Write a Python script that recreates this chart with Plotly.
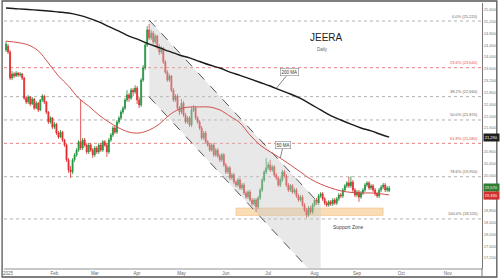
import pandas as pd
import plotly.graph_objects as go

# ---------------- data ----------------
dates = pd.bdate_range("2024-12-31", periods=191)

opens = [
    24240, 24370, 24170, 23290, 23430, 23360, 23460, 23390, 23430, 23290,
    22610, 22480, 22650, 22410, 22580, 22270, 22440, 22210, 22550, 22680,
    22480, 22140, 21800, 21940, 21630, 21730, 21430, 21290, 21460, 21190,
    21020, 20520, 20180, 20110, 20520, 20690, 20850, 21130, 20920, 21190,
    21020, 20790, 21020, 20850, 20690, 20920, 20790, 21020, 20850, 21130,
    21020, 20790, 21190, 21360, 21600, 21460, 21800, 21940, 22140, 22270,
    22550, 22720, 22610, 22880, 22820, 22950, 22550, 22380, 23220, 23630,
    24410, 24920, 24650, 24810, 24510, 24710, 24340, 24170, 24310, 23830,
    23490, 23220, 23360, 22880, 22550, 22680, 22270, 22140, 22440, 22040,
    21800, 21940, 21700, 22210, 22270, 21940, 21800, 21600, 21260, 21430,
    21130, 21020, 20850, 21020, 20690, 20850, 20650, 20520, 20690, 20350,
    20110, 20250, 19910, 20010, 19770, 19670, 19840, 19570, 19670, 19400,
    19260, 19430, 19160, 19030, 19160, 18930, 19230, 19500, 19840, 20110,
    20250, 20350, 20180, 20280, 20010, 19910, 19670, 19840, 20110, 19970,
    19670, 19500, 19640, 19430, 19500, 19300, 19160, 19260, 18990, 18820,
    18650, 18890, 18760, 18990, 19160, 19060, 19300, 19370, 19200, 19060,
    18990, 19100, 19030, 19160, 19060, 19200, 19330, 19300, 19500, 19640,
    19740, 19640, 19770, 19500, 19330, 19430, 19260, 19400, 19500, 19670,
    19740, 19570, 19640, 19500, 19370, 19300, 19500, 19600, 19670, 19500,
    19470,
]
highs = [
    24540, 24440, 24240, 23530, 23490, 23530, 23490, 23490, 23460, 23330,
    22680, 22720, 22680, 22650, 22610, 22510, 22480, 22580, 22750, 22720,
    22510, 22170, 22000, 21970, 21800, 21770, 21500, 21530, 21500, 21230,
    21060, 20580, 20310, 20580, 20750, 20920, 21190, 22550, 21260, 21260,
    21090, 21090, 21090, 20920, 20990, 20990, 21090, 21090, 21190, 21190,
    21090, 21260, 21430, 21670, 21670, 21870, 22000, 22210, 22340, 22610,
    22880, 22780, 22950, 22950, 23050, 23020, 22650, 23290, 23730, 24510,
    25050, 25120, 24920, 24880, 24780, 24750, 24440, 24370, 24340, 23900,
    23560, 23430, 23390, 22950, 22750, 22750, 22340, 22580, 22510, 22110,
    22000, 22000, 22310, 22380, 22340, 22000, 21870, 21670, 21500, 21500,
    21190, 21090, 21090, 21090, 20920, 20920, 20720, 20750, 20750, 20420,
    20310, 20310, 20080, 20080, 19840, 19910, 19910, 19740, 19740, 19470,
    19500, 19500, 19230, 19230, 19230, 19300, 19570, 19910, 20180, 20580,
    20450, 20520, 20350, 20350, 20080, 19970, 19910, 20180, 20180, 20040,
    19740, 19700, 19700, 19570, 19570, 19370, 19330, 19330, 19060, 18890,
    18960, 18960, 19060, 19230, 19230, 19370, 19430, 19430, 19260, 19130,
    19160, 19160, 19230, 19230, 19260, 19400, 19400, 19570, 19700, 19800,
    19940, 19970, 19840, 19570, 19500, 19500, 19470, 19570, 19740, 19800,
    19800, 19700, 19700, 19570, 19430, 19570, 19670, 19740, 19740, 19640,
    19640,
]
lows = [
    24170, 24100, 23220, 23220, 23290, 23330, 23330, 23330, 23220, 22550,
    22410, 22410, 22340, 22380, 22210, 22240, 22140, 22170, 22480, 22410,
    22070, 21740, 21740, 21560, 21560, 21360, 21230, 21260, 21130, 20960,
    20450, 20080, 19910, 20040, 20450, 20620, 20790, 20850, 20850, 20960,
    20720, 20720, 20790, 20580, 20620, 20720, 20720, 20790, 20790, 20960,
    20620, 20720, 21130, 21290, 21400, 21400, 21740, 21870, 22070, 22210,
    22480, 22480, 22550, 22680, 22750, 22410, 22270, 22310, 23160, 23560,
    24340, 24580, 24580, 24440, 24440, 24270, 24070, 24100, 23770, 23430,
    23160, 23160, 22820, 22480, 22480, 22210, 22040, 22070, 21970, 21740,
    21740, 21630, 21630, 22140, 21870, 21740, 21530, 21190, 21190, 21060,
    20960, 20790, 20790, 20620, 20620, 20580, 20450, 20450, 20280, 20040,
    20040, 19840, 19840, 19700, 19600, 19600, 19500, 19500, 19330, 19200,
    19200, 19100, 18960, 18960, 18760, 18860, 19160, 19430, 19770, 20040,
    20180, 20110, 20110, 19940, 19840, 19600, 19600, 19770, 19910, 19600,
    19430, 19430, 19370, 19370, 19230, 19100, 19100, 18930, 18760, 18550,
    18590, 18690, 18690, 18930, 18990, 18990, 19230, 19130, 18990, 18930,
    18930, 18960, 18960, 18990, 18990, 19130, 19230, 19230, 19430, 19570,
    19570, 19570, 19430, 19260, 19260, 19100, 19200, 19330, 19430, 19600,
    19500, 19500, 19430, 19300, 19230, 19230, 19430, 19530, 19430, 19430,
    19430,
]
closes = [
    24440, 24170, 23290, 23430, 23360, 23460, 23390, 23430, 23290, 22610,
    22480, 22650, 22410, 22580, 22270, 22440, 22210, 22550, 22680, 22480,
    22140, 21800, 21940, 21630, 21730, 21430, 21290, 21460, 21190, 21020,
    20520, 20180, 20110, 20520, 20690, 20850, 21130, 20920, 21190, 21020,
    20790, 21020, 20850, 20690, 20920, 20790, 21020, 20850, 21130, 21020,
    20790, 21190, 21360, 21600, 21460, 21800, 21940, 22140, 22270, 22550,
    22720, 22610, 22880, 22820, 22950, 22550, 22380, 23220, 23630, 24410,
    24920, 24650, 24810, 24510, 24710, 24340, 24170, 24310, 23830, 23490,
    23220, 23360, 22880, 22550, 22680, 22270, 22140, 22440, 22040, 21800,
    21940, 21700, 22210, 22270, 21940, 21800, 21600, 21260, 21430, 21130,
    21020, 20850, 21020, 20690, 20850, 20650, 20520, 20690, 20350, 20110,
    20250, 19910, 20010, 19770, 19670, 19840, 19570, 19670, 19400, 19260,
    19430, 19160, 19030, 19160, 18930, 19230, 19500, 19840, 20110, 20250,
    20350, 20180, 20280, 20010, 19910, 19670, 19840, 20110, 19970, 19670,
    19500, 19640, 19430, 19500, 19300, 19160, 19260, 18990, 18820, 18650,
    18890, 18760, 18990, 19160, 19060, 19300, 19370, 19200, 19060, 18990,
    19100, 19030, 19160, 19060, 19200, 19330, 19300, 19500, 19640, 19740,
    19640, 19770, 19500, 19330, 19430, 19260, 19400, 19500, 19670, 19740,
    19570, 19640, 19500, 19370, 19300, 19500, 19600, 19670, 19500, 19570,
    19570,
]

ma_dates = [
    "2024-12-31", "2025-01-08", "2025-01-15", "2025-01-22", "2025-01-29",
    "2025-02-05", "2025-02-12", "2025-02-19", "2025-02-26", "2025-03-05",
    "2025-03-12", "2025-03-19", "2025-03-26", "2025-04-02", "2025-04-09",
    "2025-04-16", "2025-04-23", "2025-04-30", "2025-05-07", "2025-05-14",
    "2025-05-21", "2025-05-28", "2025-06-04", "2025-06-11", "2025-06-18",
    "2025-06-25", "2025-07-02", "2025-07-09", "2025-07-16", "2025-07-23",
    "2025-07-30", "2025-08-06", "2025-08-13", "2025-08-20", "2025-08-27",
    "2025-09-03", "2025-09-10", "2025-09-17", "2025-09-23",
]
ma50 = [
    24540, 24490, 24410, 24210, 23800, 23360, 23020, 22610, 22340, 22040,
    21800, 21600, 21460, 21430, 21530, 21730, 22040, 22240, 22310, 22310,
    22310, 22210, 22000, 21770, 21360, 21020, 20790, 20580, 20350, 20110,
    19870, 19700, 19570, 19470, 19420, 19400, 19400, 19370, 19330,
]
ma200 = [
    25660, 25630, 25610, 25585, 25560, 25525, 25490, 25420, 25320, 25190,
    25030, 24880, 24710, 24580, 24440, 24320, 24190, 24070, 23970, 23850,
    23730, 23630, 23490, 23380, 23260, 23140, 23020, 22880, 22750, 22600,
    22410, 22210, 22020, 21870, 21730, 21600, 21500, 21380, 21290,
]

fib_labels = ["0.0%", "23.6%", "38.2%", "50.0%", "61.8%", "78.6%", "100.0%"]
fib_values = [25220, 23640, 22660, 21870, 21080, 19950, 18520]
fib_red = [False, True, False, False, True, False, False]

channel_dates = ["2025-04-09", "2025-08-06"]
channel_upper = [25250, 18990]
channel_lower = [22650, 16390]

zone_dates = ["2025-06-09", "2025-09-18"]
zone_prices = [18640, 18890]

ma_label_dates = ["2025-07-07", "2025-07-09"]
ma_label_prices = [22940, 20580]

month_ticks = ["2025-01-01", "2025-02-03", "2025-03-03", "2025-04-01", "2025-05-01",
               "2025-06-02", "2025-07-01", "2025-08-01", "2025-09-01", "2025-10-01",
               "2025-11-03"]
month_labels = ["2025", "Feb", "Mar", "Apr", "May", "Jun", "Jul", "Aug", "Sep", "Oct", "Nov"]
y_ticks = list(range(17200, 25601, 400))

# ---------------- figure ----------------
GREEN = "#22923c"
RED = "#e2282c"
FONT = "Liberation Sans"

fig = go.Figure()

# descending channel
fig.add_trace(go.Scatter(
    x=[channel_dates[0], channel_dates[1], channel_dates[1], channel_dates[0]],
    y=[channel_upper[0], channel_upper[1], channel_lower[1], channel_lower[0]],
    fill="toself", fillcolor="rgba(200,200,200,0.42)", mode="lines",
    line=dict(width=0), hoverinfo="skip"))
for arr in (channel_upper, channel_lower):
    fig.add_trace(go.Scatter(x=channel_dates, y=arr, mode="lines",
                             line=dict(color="#444", width=0.9, dash="dash"),
                             hoverinfo="skip"))

fig.add_trace(go.Candlestick(
    x=dates, open=opens, high=highs, low=lows, close=closes,
    increasing=dict(line=dict(color=GREEN, width=0.8), fillcolor=GREEN),
    decreasing=dict(line=dict(color=RED, width=0.8), fillcolor=RED),
    whiskerwidth=0))

fig.add_trace(go.Scatter(x=ma_dates, y=ma200, mode="lines",
                         line=dict(color="#1a1a1a", width=1.4, shape="spline")))
fig.add_trace(go.Scatter(x=ma_dates, y=ma50, mode="lines",
                         line=dict(color="#d0504c", width=1.0, shape="spline")))

shapes = []
for v, r in zip(fib_values, fib_red):
    shapes.append(dict(type="line", xref="paper", x0=0, x1=1, yref="y", y0=v, y1=v,
                       line=dict(color="#e57373" if r else "#a8a8a8", width=0.9, dash="dot"),
                       layer="below"))
shapes.append(dict(type="rect", xref="x", yref="y", x0=zone_dates[0], x1=zone_dates[1],
                   y0=zone_prices[0], y1=zone_prices[1],
                   fillcolor="rgba(246,186,110,0.5)", line=dict(color="rgba(240,170,90,0.8)", width=0.5),
                   layer="below"))
# outer frame and axis extension
shapes.append(dict(type="rect", xref="paper", yref="paper", x0=-0.004, x1=1.031, y0=-0.034, y1=1.0075,
                   line=dict(color="#555", width=1.3)))
shapes.append(dict(type="line", xref="paper", yref="paper", x0=1, x1=1, y0=-0.034, y1=0,
                   line=dict(color="#777", width=1)))

annotations = []
for lab, v, r in zip(fib_labels, fib_values, fib_red):
    annotations.append(dict(xref="paper", x=0.996, xanchor="right", yref="y", y=v, yanchor="bottom",
                            yshift=0.5, text=f"{lab} ({v:,})", showarrow=False,
                            font=dict(family=FONT, size=4, color="#e05050" if r else "#666")))

annotations += [
    dict(xref="paper", yref="paper", x=0.674, y=0.868, xanchor="center", yanchor="middle",
         text="JEERA", showarrow=False, font=dict(family=FONT, size=10, color="#222")),
    dict(xref="paper", yref="paper", x=0.651, y=0.826, xanchor="left", yanchor="middle",
         text="Daily", showarrow=False, font=dict(family=FONT, size=4.5, color="#666")),
    dict(xref="paper", yref="paper", x=0.684, y=0.155, xanchor="left", yanchor="middle",
         text="Support Zone", showarrow=False, font=dict(family=FONT, size=5, color="#444")),
    dict(x=ma_label_dates[0], y=ma_label_prices[0], text="200 MA", showarrow=True, arrowhead=0,
         arrowwidth=0.7, arrowcolor="#555", ax=13, ay=-16, bgcolor="white", bordercolor="#888",
         borderwidth=0.6, borderpad=1, font=dict(family=FONT, size=4.5, color="#333")),
    dict(x=ma_label_dates[1], y=ma_label_prices[1], text="50 MA", showarrow=True, arrowhead=0,
         arrowwidth=0.7, arrowcolor="#555", ax=3, ay=-13, bgcolor="white", bordercolor="#888",
         borderwidth=0.6, borderpad=1, font=dict(family=FONT, size=4.5, color="#333")),
]
for v, bg in ((ma200[-1], "#1f1f1f"), (closes[-1], "#2e7d32"), (ma50[-1], "#d32f2f")):
    annotations.append(dict(xref="paper", x=1, xanchor="left", xshift=1, yref="y", y=v,
                            yanchor="middle", text=f"{v:,}", showarrow=False, bgcolor=bg,
                            borderpad=0.8, font=dict(family=FONT, size=4, color="white")))

fig.update_layout(
    width=500, height=280, margin=dict(l=3, r=16, t=3, b=12),
    paper_bgcolor="white", plot_bgcolor="white", showlegend=False,
    font=dict(family=FONT, size=4.5, color="#666"),
    shapes=shapes, annotations=annotations,
)
fig.update_xaxes(type="date", range=["2024-12-30", "2025-11-26"],
                 rangebreaks=[dict(bounds=["sat", "mon"])],
                 tickvals=month_ticks, ticktext=month_labels, ticks="",
                 showgrid=False, zeroline=False, showline=True, linecolor="#c8c8c8", linewidth=1.5,
                 tickfont=dict(family=FONT, size=4.5, color="#666"),
                 rangeslider=dict(visible=False))
fig.update_yaxes(side="right", range=[16860, 25830], tickvals=y_ticks, tickformat=",",
                 ticks="", showgrid=False, zeroline=False, showline=True, linecolor="#777",
                 tickfont=dict(family=FONT, size=4, color="#777"))

fig.write_html("out.html", config={"displayModeBar": False},
               post_script="document.body.style.margin='0';document.body.style.overflow='hidden';")
